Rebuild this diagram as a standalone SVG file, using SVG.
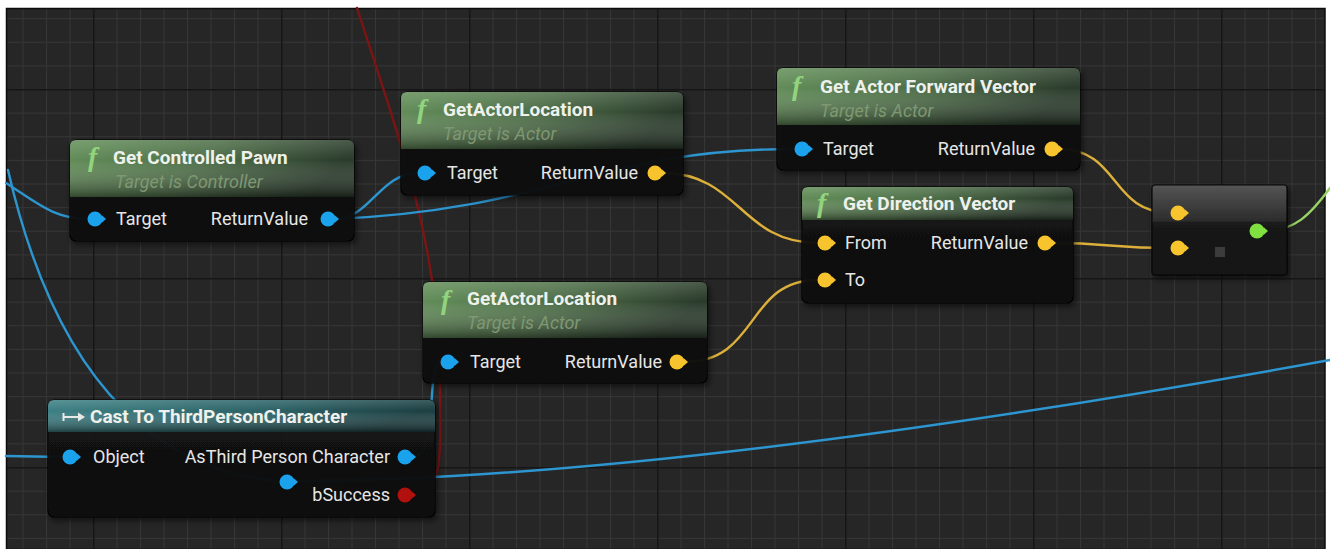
<svg xmlns="http://www.w3.org/2000/svg" width="1330" height="549" viewBox="0 0 1330 549">
<defs>
<style>
.t{font-family:Roboto,"Liberation Sans",sans-serif;font-weight:bold;font-size:19px;fill:#eef1ec}
.s{font-family:Roboto,"Liberation Sans",sans-serif;font-style:italic;font-size:18px;fill:#7f9872}
.p{font-family:Roboto,"Liberation Sans",sans-serif;font-size:18px;fill:#e6e6e6}
.e{text-anchor:end}
.f{font-family:"Liberation Serif","DejaVu Serif",serif;font-style:italic;font-weight:bold;font-size:28px;fill:#92d47e}
.body{fill:url(#gBody);stroke:#050505;stroke-width:1.2;filter:url(#sh)}
.hg{fill:url(#gHdr)}
.hc{fill:url(#gCast)}
.hv{fill:url(#gHdrV)}
.w{fill:none;stroke-width:2.4;stroke-linecap:round}
.wb{stroke:#2d95cf}
.wy{stroke:#dcb03a}
.wr{stroke:#7c1414}
.wg{stroke:#98d465}
</style>
<pattern id="minor" patternUnits="userSpaceOnUse" x="-1" y="-5.5" width="23.5" height="23.625">
<rect width="23.5" height="23.625" fill="#262626"/>
<rect width="23.5" height="1" fill="#363636"/>
<rect width="1" height="23.625" fill="#363636"/>
</pattern>
<pattern id="major" patternUnits="userSpaceOnUse" x="-95" y="-100" width="188" height="189">
<rect width="188" height="1.5" fill="#161616"/>
<rect width="1.5" height="189" fill="#161616"/>
</pattern>
<linearGradient id="gHdr" x1="0" y1="0" x2="1" y2="0.2">
<stop offset="0" stop-color="#64905a"/>
<stop offset="0.5" stop-color="#4f7049"/>
<stop offset="1" stop-color="#2a3b2b"/>
</linearGradient>
<linearGradient id="gCast" x1="0" y1="0" x2="1" y2="0.2">
<stop offset="0" stop-color="#3e8286"/>
<stop offset="0.6" stop-color="#2c6266"/>
<stop offset="1" stop-color="#1c3f42"/>
</linearGradient>
<linearGradient id="gHdrV" x1="0" y1="0" x2="0" y2="1">
<stop offset="0" stop-color="#ffffff" stop-opacity="0.14"/>
<stop offset="0.35" stop-color="#ffffff" stop-opacity="0"/>
<stop offset="1" stop-color="#000000" stop-opacity="0.45"/>
</linearGradient>
<linearGradient id="gBody" x1="0" y1="0" x2="0" y2="1">
<stop offset="0" stop-color="#171717" stop-opacity="0.93"/>
<stop offset="1" stop-color="#0c0c0c" stop-opacity="0.93"/>
</linearGradient>
<linearGradient id="gDot" x1="0" y1="0" x2="0" y2="1">
<stop offset="0" stop-color="#555555"/>
<stop offset="0.4" stop-color="#2c2c2c"/>
<stop offset="0.42" stop-color="#1a1a1a"/>
<stop offset="1" stop-color="#131313"/>
</linearGradient>
<filter id="sh" x="-10%" y="-10%" width="130%" height="140%">
<feDropShadow dx="2" dy="3" stdDeviation="3" flood-color="#000" flood-opacity="0.6"/>
</filter>
<g id="pinB"><circle r="7.5" fill="#1aa3ec"/><path d="M6.5,-4L11,0L6.5,4Z" fill="#1aa3ec"/></g>
<g id="pinY"><circle r="7.5" fill="#f7c42e"/><path d="M6.5,-4L11,0L6.5,4Z" fill="#f7c42e"/></g>
<g id="pinR"><circle r="7.5" fill="#b0100e"/><path d="M6.5,-4L11,0L6.5,4Z" fill="#b0100e"/></g>
<g id="pinG"><circle r="7.5" fill="#80e040"/><path d="M6.5,-4L11,0L6.5,4Z" fill="#80e040"/></g>
</defs>

<rect width="1330" height="549" fill="#ffffff"/>
<rect x="6" y="8" width="1319" height="541" fill="url(#minor)"/>
<rect x="6" y="8" width="1319" height="541" fill="url(#major)"/>
<rect x="6.5" y="8.5" width="1318.5" height="541" fill="none" stroke="#0c0c0c" stroke-width="1.5"/>

<g id="connectors">
<path class="w wr" d="M357 8 C400 140, 440 250, 440 380 C440 450, 445 495, 413 495"/>
<path class="w wb" d="M6 183 C40 205, 55 219, 89 219"/>
<path class="w wb" d="M8 170 C40 310, 110 470, 287 482"/>
<path class="w wb" d="M6 456 L63 457"/>
<path class="w wb" d="M335 219 C370 219, 380 173, 418 173"/>
<path class="w wb" d="M335 219 C550 210, 600 149, 795 149"/>
<path class="w wb" d="M412 457 C440 457, 425 362, 441 362"/>
<path class="w wb" d="M294 481 C600 480, 1000 420, 1330 360"/>
<path class="w wy" d="M662 173 C740 173, 740 243, 818 243"/>
<path class="w wy" d="M684 362 C760 362, 745 280, 818 280"/>
<path class="w wy" d="M1059 149 C1120 149, 1110 213, 1171 213"/>
<path class="w wy" d="M1052 243 C1110 243, 1110 248, 1171 248"/>
<path class="w wg" d="M1264 231 C1295 231, 1310 215, 1330 188"/>
</g>

<g id="getControlledPawn" transform="translate(70,140)">
<rect class="body" width="284" height="101" rx="6"/>
<path class="hg" d="M0,57V6Q0,0 6,0H278Q284,0 284,6V57Z"/>
<path class="hv" d="M0,57V6Q0,0 6,0H278Q284,0 284,6V57Z"/>
<text class="f" x="18" y="26">f</text>
<text class="t" x="43" y="24">Get Controlled Pawn</text>
<text class="s" x="45" y="48">Target is Controller</text>
<use href="#pinB" x="25" y="79"/>
<text class="p" x="46" y="85">Target</text>
<text class="p e" x="238" y="85">ReturnValue</text>
<use href="#pinB" x="258" y="79"/>
</g>

<g id="getActorLocationTop" transform="translate(401,92)">
<rect class="body" width="282" height="103" rx="6"/>
<path class="hg" d="M0,57V6Q0,0 6,0H276Q282,0 282,6V57Z"/>
<path class="hv" d="M0,57V6Q0,0 6,0H276Q282,0 282,6V57Z"/>
<text class="f" x="16" y="26">f</text>
<text class="t" x="42" y="24">GetActorLocation</text>
<text class="s" x="42" y="48">Target is Actor</text>
<use href="#pinB" x="24" y="81"/>
<text class="p" x="46" y="87">Target</text>
<text class="p e" x="237" y="87">ReturnValue</text>
<use href="#pinY" x="254" y="81"/>
</g>

<g id="getActorForwardVector" transform="translate(777,68)">
<rect class="body" width="303" height="102" rx="6"/>
<path class="hg" d="M0,57V6Q0,0 6,0H297Q303,0 303,6V57Z"/>
<path class="hv" d="M0,57V6Q0,0 6,0H297Q303,0 303,6V57Z"/>
<text class="f" x="15" y="27">f</text>
<text class="t" x="43" y="25">Get Actor Forward Vector</text>
<text class="s" x="43" y="49">Target is Actor</text>
<use href="#pinB" x="25" y="81"/>
<text class="p" x="46" y="87">Target</text>
<text class="p e" x="258" y="87">ReturnValue</text>
<use href="#pinY" x="275" y="81"/>
</g>

<g id="getDirectionVector" transform="translate(802,187)">
<rect class="body" width="271" height="116" rx="6"/>
<path class="hg" d="M0,33V6Q0,0 6,0H265Q271,0 271,6V33Z"/>
<path class="hv" d="M0,33V6Q0,0 6,0H265Q271,0 271,6V33Z"/>
<text class="f" x="15" y="25">f</text>
<text class="t" x="41" y="23">Get Direction Vector</text>
<use href="#pinY" x="23" y="56"/>
<text class="p" x="43" y="62">From</text>
<use href="#pinY" x="23" y="93"/>
<text class="p" x="43" y="99">To</text>
<text class="p e" x="226" y="62">ReturnValue</text>
<use href="#pinY" x="243" y="56"/>
</g>

<g id="dotProduct" transform="translate(1152,185)">
<rect width="135" height="90" rx="3" fill="url(#gDot)" stroke="#070707" stroke-width="1.2" filter="url(#sh)"/>
<use href="#pinY" x="26" y="28"/>
<use href="#pinY" x="26" y="63"/>
<use href="#pinG" x="105" y="46"/>
<rect x="63" y="62" width="10" height="10" fill="#3c3c3c"/>
</g>

<g id="getActorLocationBottom" transform="translate(423,282)">
<rect class="body" width="284" height="101" rx="6"/>
<path class="hg" d="M0,56V6Q0,0 6,0H278Q284,0 284,6V56Z"/>
<path class="hv" d="M0,56V6Q0,0 6,0H278Q284,0 284,6V56Z"/>
<text class="f" x="18" y="27">f</text>
<text class="t" x="44" y="23">GetActorLocation</text>
<text class="s" x="44" y="47">Target is Actor</text>
<use href="#pinB" x="25" y="80"/>
<text class="p" x="47" y="86">Target</text>
<text class="p e" x="239" y="86">ReturnValue</text>
<use href="#pinY" x="254" y="80"/>
</g>

<g id="castToThirdPersonCharacter" transform="translate(48,400)">
<rect class="body" width="387" height="117" rx="6"/>
<path class="hc" d="M0,32V6Q0,0 6,0H381Q387,0 387,6V32Z"/>
<path class="hv" d="M0,32V6Q0,0 6,0H381Q387,0 387,6V32Z"/>
<path d="M15.5,13V21M16,17H32" stroke="#e8e8e8" stroke-width="2" fill="none"/>
<path d="M30,12.5L37,17L30,21.5Z" fill="#e8e8e8"/>
<text class="t" x="42" y="23">Cast To ThirdPersonCharacter</text>
<use href="#pinB" x="22" y="57"/>
<text class="p" x="45" y="63">Object</text>
<text class="p e" x="342" y="63">AsThird Person Character</text>
<use href="#pinB" x="357" y="57"/>
<use href="#pinB" x="239" y="82"/>
<text class="p e" x="342" y="101">bSuccess</text>
<use href="#pinR" x="357" y="95"/>
</g>
</svg>
